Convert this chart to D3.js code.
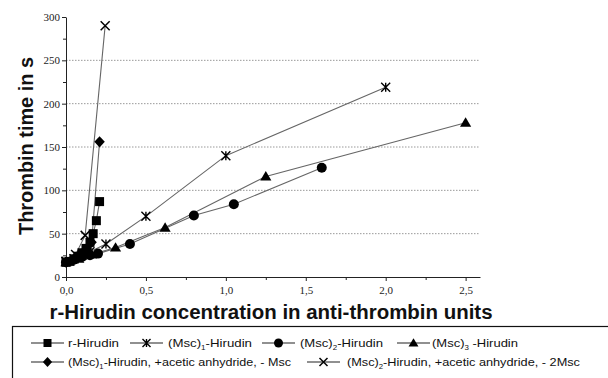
<!DOCTYPE html>
<html>
<head>
<meta charset="utf-8">
<script src="https://cdn.jsdelivr.net/npm/d3@7"></script>
<style>
  body { margin: 0; background: #fff; }
  svg { display: block; }
</style>
</head>
<body>
<svg id="chart" width="608" height="378"></svg>
<script>
// Data
const rHirudinX = [0, 0.025, 0.05, 0.075, 0.1, 0.125, 0.15, 0.17, 0.19, 0.21];
const rHirudinY = [17, 18, 21, 24, 28, 33, 40, 50, 65, 87];

const msc1X = [0, 0.05, 0.1, 0.15, 0.25, 0.5, 1.0, 2.0];
const msc1Y = [18, 21, 25, 29, 38, 70, 140, 219];

const msc2X = [0, 0.05, 0.1, 0.15, 0.2, 0.4, 0.8, 1.05, 1.6];
const msc2Y = [17, 20, 23, 25, 27, 38, 71, 84, 126];

const msc3X = [0, 0.08, 0.16, 0.31, 0.62, 1.25, 2.5];
const msc3Y = [17, 21, 26, 34, 57, 116, 178];

const msc1AnhX = [0, 0.05, 0.1, 0.13, 0.16, 0.21];
const msc1AnhY = [17, 21, 26, 33, 40, 156];

const msc2AnhX = [0, 0.06, 0.12, 0.245];
const msc2AnhY = [18, 26, 48, 290];

const xTicks = [0, 0.5, 1.0, 1.5, 2.0, 2.5];
const yTicks = [0, 50, 100, 150, 200, 250, 300];
const gridValues = [50, 100, 150, 200, 250];

const series = [
  { name: "r-Hirudin", sub: null, tail: "", xs: rHirudinX, ys: rHirudinY, shape: "square" },
  { name: "(Msc)", sub: "1", tail: "-Hirudin", xs: msc1X, ys: msc1Y, shape: "asterisk" },
  { name: "(Msc)", sub: "2", tail: "-Hirudin", xs: msc2X, ys: msc2Y, shape: "circle" },
  { name: "(Msc)", sub: "3", tail: " -Hirudin", xs: msc3X, ys: msc3Y, shape: "triangle" },
  { name: "(Msc)", sub: "1", tail: "-Hirudin, +acetic anhydride, - Msc", xs: msc1AnhX, ys: msc1AnhY, shape: "diamond" },
  { name: "(Msc)", sub: "2", tail: "-Hirudin, +acetic anhydride, - 2Msc", xs: msc2AnhX, ys: msc2AnhY, shape: "times" }
];

const svg = d3.select("#chart");

const x = d3.scaleLinear().domain([0, 2.59]).range([66, 480]);
const y = d3.scaleLinear().domain([0, 300]).range([277, 17]);

// Gridlines
svg.append("g")
  .selectAll("line")
  .data(gridValues)
  .join("line")
  .attr("x1", x(0))
  .attr("x2", x(2.59))
  .attr("y1", d => y(d))
  .attr("y2", d => y(d))
  .attr("stroke", "#999")
  .attr("stroke-width", 1)
  .attr("stroke-dasharray", "1.5,1.5");

// Axes
const serif = "'Liberation Serif', 'DejaVu Serif', serif";
const sans = "'Liberation Sans', Arial, sans-serif";

const xAxisG = svg.append("g")
  .attr("transform", `translate(0, ${y(0)})`)
  .call(d3.axisBottom(x).tickValues(xTicks).tickSize(4).tickSizeOuter(0)
    .tickFormat(d => d.toFixed(1).replace(".", ",")));
xAxisG.append("g")
  .call(d3.axisBottom(x).tickValues(d3.range(0.25, 2.6, 0.5)).tickSize(3).tickSizeOuter(0).tickFormat(""))
  .select(".domain").remove();

const yAxisG = svg.append("g")
  .attr("transform", `translate(${x(0)}, 0)`)
  .call(d3.axisLeft(y).tickValues(yTicks).tickSize(4).tickSizeOuter(0));
yAxisG.append("g")
  .call(d3.axisLeft(y).tickValues(d3.range(25, 300, 50)).tickSize(3).tickSizeOuter(0).tickFormat(""))
  .select(".domain").remove();

svg.selectAll(".domain, .tick line").attr("stroke", "#222");
xAxisG.selectAll("text").attr("font-family", serif).attr("font-size", 11).attr("fill", "#222").attr("dy", "0.9em");
yAxisG.selectAll("text").attr("font-family", serif).attr("font-size", 11).attr("fill", "#222").attr("dx", "0.1em");

// Axis titles
svg.append("text")
  .attr("transform", `translate(33, 146) rotate(-90)`)
  .attr("text-anchor", "middle")
  .attr("font-family", sans)
  .attr("font-weight", "bold")
  .attr("font-size", 20)
  .attr("textLength", 178)
  .attr("lengthAdjust", "spacingAndGlyphs")
  .attr("fill", "#111")
  .text("Thrombin time in s");

svg.append("text")
  .attr("x", 271)
  .attr("y", 319)
  .attr("text-anchor", "middle")
  .attr("font-family", sans)
  .attr("font-weight", "bold")
  .attr("font-size", 20)
  .attr("textLength", 443)
  .attr("lengthAdjust", "spacingAndGlyphs")
  .attr("fill", "#111")
  .text("r-Hirudin concentration in anti-thrombin units");

// Marker drawing
function drawMarker(g, shape, s) {
  if (shape === "square") {
    g.append("rect").attr("x", -s / 2).attr("y", -s / 2).attr("width", s).attr("height", s).attr("fill", "#000");
  } else if (shape === "circle") {
    g.append("circle").attr("r", s / 2 + 0.5).attr("fill", "#000");
  } else if (shape === "triangle") {
    g.append("path").attr("d", `M0,${-s * 0.6}L${s * 0.62},${s * 0.45}L${-s * 0.62},${s * 0.45}Z`).attr("fill", "#000");
  } else if (shape === "diamond") {
    g.append("path").attr("d", `M0,${-s * 0.62}L${s * 0.58},0L0,${s * 0.62}L${-s * 0.58},0Z`).attr("fill", "#000");
  } else if (shape === "asterisk") {
    const r = s / 2;
    g.append("path")
      .attr("d", `M${-r},${-r}L${r},${r}M${-r},${r}L${r},${-r}M0,${-r}L0,${r}`)
      .attr("stroke", "#000").attr("stroke-width", 1.4).attr("fill", "none");
  } else if (shape === "times") {
    const r = s / 2;
    g.append("path")
      .attr("d", `M${-r},${-r}L${r},${r}M${-r},${r}L${r},${-r}`)
      .attr("stroke", "#000").attr("stroke-width", 1.5).attr("fill", "none");
  }
}

// Lines
const line = d3.line().x(d => x(d[0])).y(d => y(d[1]));
series.forEach(s => {
  s.points = s.xs.map((v, i) => [v, s.ys[i]]);
});

svg.append("g")
  .selectAll("path")
  .data(series)
  .join("path")
  .attr("d", d => line(d.points))
  .attr("fill", "none")
  .attr("stroke", "#666")
  .attr("stroke-width", 1.1);

// Markers
series.forEach(s => {
  svg.append("g")
    .selectAll("g")
    .data(s.points)
    .join("g")
    .attr("transform", d => `translate(${x(d[0])}, ${y(d[1])})`)
    .each(function () { drawMarker(d3.select(this), s.shape, 9); });
});

// Legend
svg.append("rect")
  .attr("x", 12.5)
  .attr("y", 326.5)
  .attr("width", 620)
  .attr("height", 70)
  .attr("fill", "none")
  .attr("stroke", "#111")
  .attr("stroke-width", 1.2);

// symbol line start, text start, text end, row baseline
const legendPos = [
  { lx: 31, tx: 68, te: 119, ty: 343 },
  { lx: 130, tx: 168, te: 252, ty: 343 },
  { lx: 262, tx: 300, te: 383, ty: 343 },
  { lx: 397, tx: 432, te: 518, ty: 343 },
  { lx: 31, tx: 68, te: 291, ty: 362 },
  { lx: 307, tx: 347, te: 580, ty: 362 }
];

series.forEach((s, i) => {
  const p = legendPos[i];
  const g = svg.append("g").attr("transform", `translate(${p.lx}, ${p.ty})`);
  g.append("line").attr("x1", 0).attr("x2", 33).attr("y1", 0).attr("y2", 0)
    .attr("stroke", "#222").attr("stroke-width", 1.2);
  const mg = g.append("g").attr("transform", "translate(16.5, 0)");
  drawMarker(mg, s.shape, 8);
  const t = g.append("text")
    .attr("x", p.tx - p.lx)
    .attr("y", 4)
    .attr("font-family", sans)
    .attr("font-size", 11.5)
    .attr("textLength", p.te - p.tx)
    .attr("lengthAdjust", "spacingAndGlyphs")
    .attr("fill", "#111");
  t.append("tspan").text(s.name);
  if (s.sub) {
    t.append("tspan").attr("font-size", 7).attr("dy", 3).text(s.sub);
    t.append("tspan").attr("dy", -3).text(s.tail);
  }
});
</script>
</body>
</html>
